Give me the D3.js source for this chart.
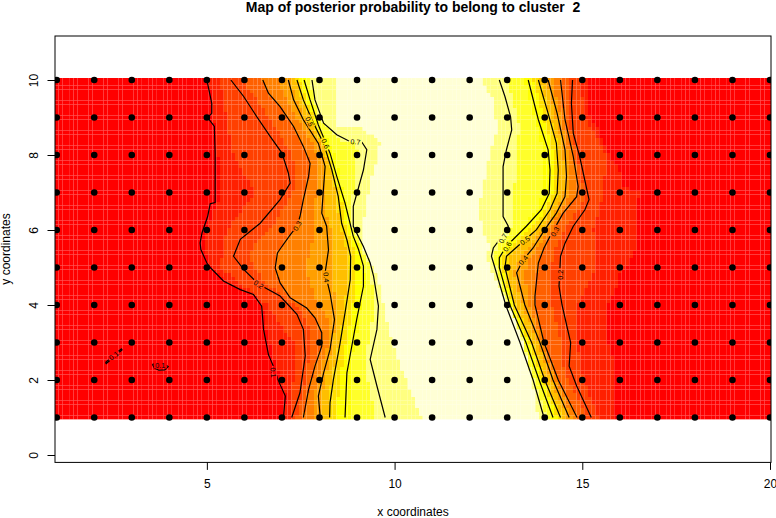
<!DOCTYPE html>
<html><head><meta charset="utf-8">
<script src="https://cdn.jsdelivr.net/npm/d3@7"></script>
<style>
html,body{margin:0;padding:0;background:#fff}
svg{display:block}
text{font-family:"Liberation Sans",Arial,sans-serif;fill:#000}
</style></head><body><svg id="c" width="776" height="518"></svg>
<script>
const titleText="Map of posterior probability to belong to cluster  2";
const xLabel="x coordinates", yLabel="y coordinates";
const xTicks=[5,10,15,20], yTicks=[0,2,4,6,8,10];
const siteX=[1,2,3,4,5,6,7,8,9,10,11,12,13,14,15,16,17,18,19,20];
const siteY=[1,2,3,4,5,6,7,8,9,10];
const heatColors=["#FF0000","#FF2000","#FF4000","#FF6000","#FF8000","#FF9F00","#FFBF00","#FFDF00","#FFFF00","#FFFF2A","#FFFF80","#FFFFD5"];
const probMin=0.05, probMax=0.8;

// contour lines: [x, y]
const left01=[[5.00,10],[5.13,9.38],[5.13,9.11],[5.02,9.00],[5.20,8.76],[5.22,8.05],[5.22,6.73],[5.09,6.70],[5.02,6.36],[4.87,5.92],[4.82,5.65],[4.84,5.48],[5.0,5.12],[5.09,5.0],[5.44,4.64],[5.89,4.41],[6.24,4.28],[6.46,3.97],[6.51,3.35],[6.64,2.68],[6.77,2.37],[6.91,1.97],[7.09,1.57],[7.04,1.0]];
const left02=[[5.64,10],[5.98,9.56],[6.33,9.02],[6.69,8.49],[7.0,8.05],[7.17,7.52],[7.22,7.25],[6.95,6.81],[6.42,6.18],[5.89,5.75],[5.71,5.30],[5.98,4.95],[6.38,4.55],[6.95,4.24],[7.40,3.75],[7.57,3.35],[7.62,2.64],[7.48,1.66],[7.26,1.0]];
const left03=[[6.49,10],[6.64,9.65],[6.95,9.29],[7.31,8.76],[7.57,8.23],[7.75,7.78],[7.71,7.43],[7.57,6.81],[7.48,6.36],[7.40,6.10],[7.22,5.87],[6.97,5.52],[6.88,5.39],[6.82,4.99],[6.95,4.59],[7.22,4.19],[7.66,3.92],[7.88,3.66],[8.06,3.26],[8.06,2.90],[7.88,2.37],[7.71,1.75],[7.57,1.0]];
const left04=[[7.17,10],[7.31,9.47],[7.57,8.94],[7.97,8.31],[8.15,7.69],[8.11,7.16],[8.06,6.45],[8.19,6.10],[8.24,5.47],[8.15,4.86],[8.28,4.32],[8.40,3.61],[8.28,2.81],[8.11,2.19],[7.97,1.57],[8.02,1.0]];
const left05=[[7.40,10],[7.57,9.47],[7.84,8.85],[8.11,8.31],[8.33,7.60],[8.50,6.89],[8.59,6.18],[8.73,5.74],[8.83,5.30],[8.82,4.68],[8.68,3.79],[8.55,2.99],[8.37,2.01],[8.28,1.39],[8.27,1.0]];
const left06=[[7.59,10],[7.75,9.47],[7.97,8.80],[8.28,8.05],[8.46,7.43],[8.68,6.72],[8.90,5.83],[9.04,5.48],[9.17,5.04],[9.17,4.50],[8.99,3.61],[8.86,2.90],[8.73,2.19],[8.68,1.0]];
const left07=[[7.80,10],[7.88,9.47],[8.11,8.85],[8.46,8.54],[8.77,8.38],[9.13,8.34],[9.26,8.14],[9.17,7.60],[8.90,6.63],[8.90,6.10],[9.17,5.56],[9.35,5.12],[9.44,4.77],[9.57,3.97],[9.53,3.35],[9.35,2.55],[9.53,1.84],[9.75,1.0]];
const right07=[[12.79,10],[12.94,9.56],[13.09,9.02],[13.12,8.67],[12.98,8.14],[12.89,7.69],[12.89,7.16],[12.89,6.36],[13.03,6.10],[12.89,5.87],[12.63,5.52],[12.58,5.30],[12.67,5.0],[12.96,4],[13.34,3],[13.69,2],[13.98,1]];
const right06=[[13.56,10],[13.83,8.94],[14.09,8.14],[14.14,7.60],[14.12,6.98],[13.91,6.54],[13.51,6.10],[12.98,5.57],[12.79,5.26],[12.79,5.0],[13.07,4],[13.50,3],[13.85,2],[14.22,1]];
const right05=[[13.83,10],[14.09,9.11],[14.31,8.31],[14.36,7.60],[14.33,6.98],[14.14,6.54],[13.78,6.01],[13.43,5.70],[12.98,5.30],[12.94,5.0],[13.19,4],[13.65,3],[14.0,2],[14.42,1]];
const right04=[[14.09,10],[14.33,9.11],[14.54,8.14],[14.58,7.43],[14.54,6.89],[14.31,6.45],[14.0,6.01],[13.69,5.52],[13.43,5.21],[13.25,4.86],[13.47,4],[13.87,3],[14.22,2],[14.65,1]];
const right03=[[14.42,10],[14.54,8.94],[14.76,7.96],[14.89,7.16],[14.85,6.89],[14.49,6.45],[14.14,5.83],[13.98,5.52],[13.83,5.12],[13.74,4.24],[13.74,4],[13.98,3],[14.36,2],[14.86,1]];
const right02=[[14.74,10],[14.71,9.38],[14.76,8.58],[14.93,7.96],[15.18,6.81],[15.07,6.54],[14.76,6.10],[14.54,5.65],[14.42,5.30],[14.38,4.50],[14.46,4],[14.69,3],[14.65,2.37],[14.85,1.84],[15.24,1]];
const loopA=[[2.30,2.47],[2.72,2.83],[2.74,2.80],[2.32,2.44],[2.30,2.47]];
const loopB=[[3.55,2.42],[3.60,2.32],[3.72,2.26],[3.88,2.27],[3.97,2.36],[3.80,2.46],[3.55,2.42]];

// colour-band edges with no drawn line: [x, y]
const leftEdge175=[[5.35,10],[5.53,9],[5.70,8],[6.28,7],[5.53,6],[5.35,5],[6.60,4],[7.30,3],[7.30,2],[7.20,1]];
const leftEdge737=[[8.46,10],[8.46,8.8],[9.08,8.76],[9.61,8.36],[9.57,7.96],[9.35,7.25],[9.21,6.45],[9.08,5.56],[9.13,5.3],[9.53,4.86],[9.70,4],[9.95,3],[10.30,2],[10.70,1]];
const rightEdge737=[[12.32,10],[12.67,9.38],[12.72,8.67],[12.49,7.78],[12.27,6.72],[12.32,6],[12.54,5.56],[12.45,5.3],[12.63,4.77],[13.07,3.97],[13.43,2.99],[13.65,2],[13.83,1]];
const rightEdge175=[[14.95,10],[15.07,9],[15.65,8],[15.56,7],[15.30,6],[15.38,5],[14.85,4],[14.85,3],[15.03,2],[15.43,1]];
const rightEdge112=[[15.10,10],[15.20,9],[15.40,8.7],[15.60,8.2],[16.0,7.55],[16.0,7.2],[16.55,7.0],[16.40,6.6],[16.40,5.5],[16.30,5.25],[16.0,4.8],[15.90,4.45],[15.60,3.9],[15.60,3.2],[15.80,2.65],[15.90,1.85],[15.87,1]];

const contourLevels=[
  {level:0.1,pts:left01},{level:0.2,pts:left02},{level:0.3,pts:left03},{level:0.4,pts:left04},{level:0.5,pts:left05},{level:0.6,pts:left06},{level:0.7,pts:left07},
  {level:0.2,pts:right02},{level:0.3,pts:right03},{level:0.4,pts:right04},{level:0.5,pts:right05},{level:0.6,pts:right06},{level:0.7,pts:right07},
  {level:0.1,pts:loopA},{level:0.1,pts:loopB}];
const leftStops=[[0.1,left01],[0.175,leftEdge175],[0.2,left02],[0.3,left03],[0.4,left04],[0.5,left05],[0.6,left06],[0.7,left07],[0.7375,leftEdge737]];
const rightStops=[[0.7375,rightEdge737],[0.7,right07],[0.6,right06],[0.5,right05],[0.4,right04],[0.3,right03],[0.2,right02],[0.175,rightEdge175],[0.1125,rightEdge112]];

const labelText=["0.5","0.6","0.7","0.3","0.4","0.2","0.1","0.1","0.1","0.7","0.6","0.5","0.3","0.4","0.2"];
const labelX=[7.73,8.16,8.96,7.41,8.18,6.38,6.77,2.52,3.76,12.89,13.0,13.47,14.27,13.43,14.42];
const labelY=[8.89,8.30,8.35,6.11,4.74,4.55,2.2,2.65,2.40,5.78,5.56,5.72,5.96,5.2,4.81];
const labelAngle=[65,65,5,-60,85,35,85,-40,0,-60,-60,-35,-60,-50,-90];

const W=776,H=518;
const box={l:55,r:771,t:36,b:462.4};
const x=d3.scaleLinear().domain([1,20]).range([56.7,770]);
const y=d3.scaleLinear().domain([0,10]).range([455,80]);
const svg=d3.select("#c");
const defs=svg.append("defs");
defs.append("clipPath").attr("id","plot").append("rect").attr("x",box.l).attr("y",box.t).attr("width",box.r-box.l).attr("height",box.b-box.t);

const colour=d3.scaleQuantize().domain([probMin,probMax]).range(heatColors);
function crossing(pts,v){
  if(v>=pts[0][1])return pts[0][0];
  for(let i=1;i<pts.length;i++){
    if(v>=pts[i][1]){const a=pts[i-1],b=pts[i];return a[0]+(b[0]-a[0])*(a[1]-v)/(a[1]-b[1]);}
  }
  return pts[pts.length-1][0];
}
function interp(xs,vs,q){
  if(q<=xs[0])return vs[0];
  for(let i=1;i<xs.length;i++){
    if(q<=xs[i]){const d=xs[i]-xs[i-1];return d<=0?vs[i]:vs[i-1]+(vs[i]-vs[i-1])*(q-xs[i-1])/d;}
  }
  return vs[vs.length-1];
}
function rowProfile(v){
  const xs=[1],vs=[probMin];
  for(const [lv,p] of leftStops){xs.push(Math.max(xs[xs.length-1],crossing(p,v)));vs.push(lv);}
  const mid=d3.mean([xs[xs.length-1],crossing(rightEdge737,v)]);
  xs.push(mid);vs.push(probMax);
  for(const [lv,p] of rightStops){xs.push(Math.max(xs[xs.length-1],crossing(p,v)));vs.push(lv);}
  xs.push(20.1);vs.push(probMin);
  return {xs,vs};
}
const gridCols=d3.range(0,191).map(i=>1+i/10);
const gridRows=d3.range(0,91).map(j=>1+j/10);
const cells=[];
for(const gy of gridRows){
  const pr=rowProfile(gy);
  for(const gx of gridCols)cells.push({gx,gy,p:interp(pr.xs,pr.vs,gx)});
}
// cell edges: those close to whole pixels are snapped, the rest keep a faint seam
const snap=e=>{const f=e-Math.floor(e);return Math.abs(f-0.5)<0.34?e:Math.round(e);};
svg.append("g").attr("clip-path","url(#plot)").selectAll("rect").data(cells).join("rect")
  .attr("x",d=>snap(x(d.gx-0.05)))
  .attr("y",d=>snap(y(d.gy+0.05)))
  .attr("width",d=>snap(x(d.gx+0.05))-snap(x(d.gx-0.05)))
  .attr("height",d=>snap(y(d.gy-0.05))-snap(y(d.gy+0.05)))
  .attr("fill",d=>colour(d.p));

// gaps in the contour lines beneath their labels
const mask=defs.append("mask").attr("id","gaps").attr("maskUnits","userSpaceOnUse")
  .attr("x",0).attr("y",0).attr("width",W).attr("height",H);
mask.append("rect").attr("width",W).attr("height",H).attr("fill","#fff");
labelText.forEach((t,i)=>{
  mask.append("rect").attr("x",-6.5).attr("y",-3.5).attr("width",13).attr("height",7).attr("fill","#000")
    .attr("transform",`translate(${x(labelX[i])},${y(labelY[i])}) rotate(${labelAngle[i]})`);
});
const line=d3.line().x(d=>x(d[0])).y(d=>y(d[1]));
svg.append("g").attr("mask","url(#gaps)").selectAll("path").data(contourLevels).join("path")
  .attr("d",d=>line(d.pts)).attr("fill","none").attr("stroke","#000").attr("stroke-width",1.2);
labelText.forEach((t,i)=>{
  svg.append("text").attr("text-anchor","middle").attr("dy","0.36em").attr("font-size",7.2).text(t)
    .attr("transform",`translate(${x(labelX[i])},${y(labelY[i])}) rotate(${labelAngle[i]})`);
});

svg.append("g").attr("clip-path","url(#plot)").selectAll("circle").data(d3.cross(siteX,siteY)).join("circle")
  .attr("cx",d=>x(d[0])).attr("cy",d=>y(d[1])).attr("r",3.3).attr("fill","#000");

svg.append("rect").attr("x",box.l).attr("y",box.t).attr("width",box.r-box.l).attr("height",box.b-box.t)
  .attr("fill","none").attr("stroke","#000").attr("stroke-width",1);

const ax=svg.append("g").attr("transform",`translate(0,${box.b})`).call(d3.axisBottom(x).tickValues(xTicks).tickSize(7.5).tickPadding(10).tickFormat(d3.format("d")));
ax.select(".domain").remove();
ax.selectAll("text").attr("font-size",12).attr("font-family",null);
const ay=svg.append("g").attr("transform",`translate(${box.l},0)`).call(d3.axisLeft(y).tickValues(yTicks).tickSize(7.5).tickFormat(d3.format("d")));
ay.select(".domain").remove();
ay.selectAll("text").attr("font-size",12).attr("font-family",null).attr("text-anchor","middle").attr("x",0).attr("dy",0)
  .attr("transform",`translate(${38-box.l},0) rotate(-90)`);

svg.append("text").attr("x",413).attr("y",12).attr("text-anchor","middle").attr("font-size",14).attr("font-weight","bold")
  .style("white-space","pre").text(titleText);
svg.append("text").attr("x",413).attr("y",516).attr("text-anchor","middle").attr("font-size",12).text(xLabel);
svg.append("text").attr("text-anchor","middle").attr("font-size",12).attr("transform","translate(10,249) rotate(-90)").text(yLabel);
</script></body></html>
